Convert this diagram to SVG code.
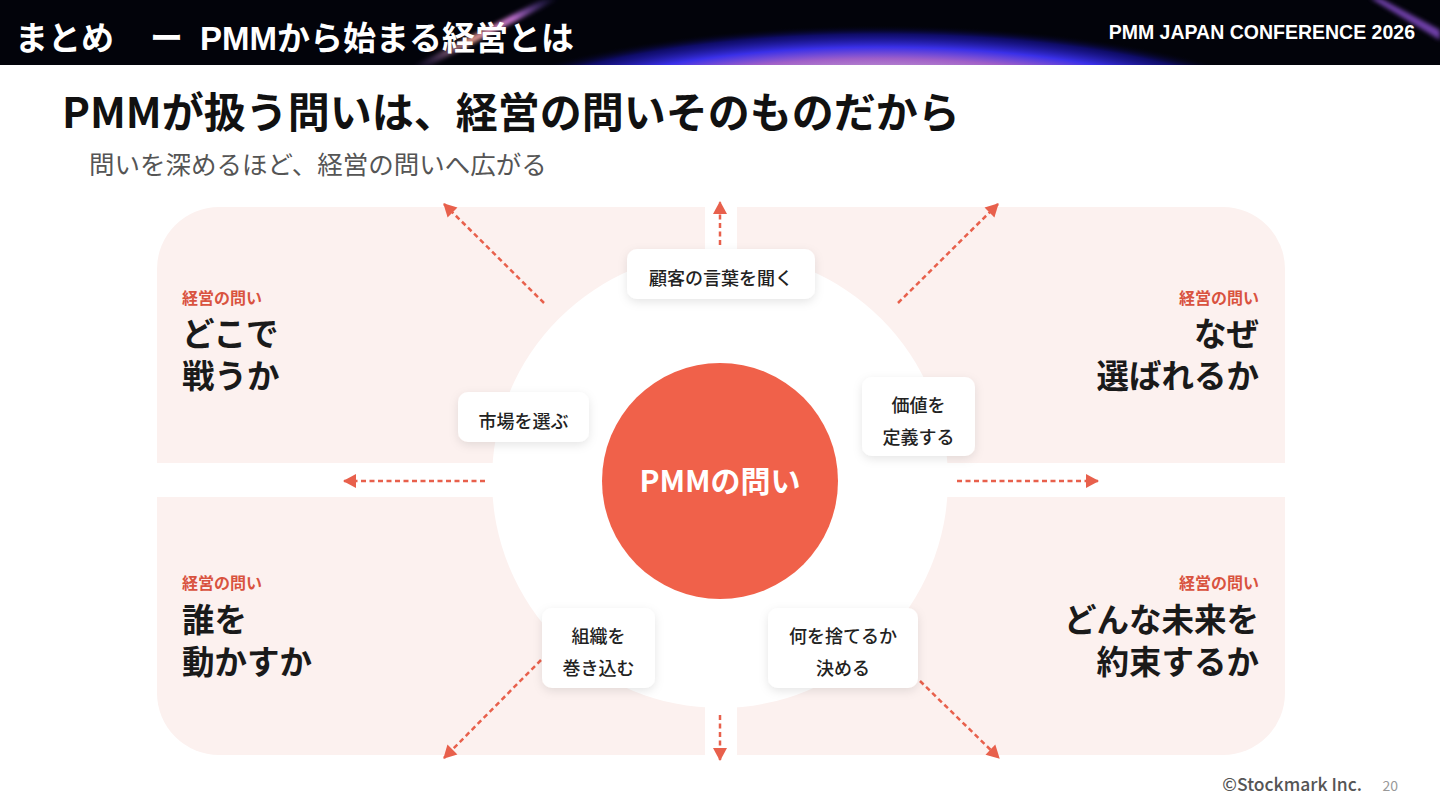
<svg xmlns="http://www.w3.org/2000/svg" width="1440" height="810" viewBox="0 0 1440 810">
<defs>
<style>
.jp{font-family:"Noto Sans CJK JP","Noto Sans",sans-serif}
.hdr{font-family:"Liberation Sans","Noto Sans CJK JP",sans-serif;font-weight:700;fill:#fff}
.tag{font-family:"Noto Sans CJK JP",sans-serif;font-weight:700;font-size:16px;fill:#D9533F}
.big{font-family:"Noto Sans CJK JP",sans-serif;font-weight:700;font-size:32.5px;fill:#1a1a1a}
.box{fill:#fff;filter:url(#sh)}
.bt{font-family:"Noto Sans CJK JP",sans-serif;font-weight:500;font-size:18px;fill:#222;text-anchor:middle}
.arr{stroke:#E8604C;stroke-width:2.5;stroke-dasharray:5 3.5;fill:none;marker-end:url(#ah)}
</style>
<marker id="ah" markerUnits="userSpaceOnUse" markerWidth="16" markerHeight="16" viewBox="0 0 16 16" refX="14" refY="8" orient="auto">
<path d="M2,1 L15,8 L2,15 Z" fill="#E8604C"/>
</marker>
<filter id="sh" x="-20%" y="-30%" width="140%" height="170%">
<feDropShadow dx="0" dy="3" stdDeviation="5" flood-color="#000" flood-opacity="0.10"/>
</filter>
<radialGradient id="glow" cx="0.5" cy="0.5" r="0.5">
<stop offset="0" stop-color="#f4e6ee"/>
<stop offset="0.6" stop-color="#cfb0d8"/>
<stop offset="0.74" stop-color="#a060c8"/>
<stop offset="0.83" stop-color="#3a30e8"/>
<stop offset="0.93" stop-color="#141090" stop-opacity="0.7"/>
<stop offset="1" stop-color="#02030a" stop-opacity="0"/>
</radialGradient>
<linearGradient id="streak" x1="0" y1="1" x2="1" y2="0">
<stop offset="0" stop-color="#6a4cc0" stop-opacity="0"/>
<stop offset="0.4" stop-color="#e39a8a"/>
<stop offset="0.7" stop-color="#c070d0"/>
<stop offset="1" stop-color="#5040c0" stop-opacity="0"/>
</linearGradient>
<filter id="blur"><feGaussianBlur stdDeviation="2"/></filter>
<clipPath id="hc"><rect x="0" y="0" width="1440" height="65"/></clipPath>
</defs>

<rect width="1440" height="810" fill="#fff"/>

<g id="header">
<rect x="0" y="0" width="1440" height="65" fill="#02030a"/>
<g clip-path="url(#hc)">
<ellipse cx="880" cy="155" rx="470" ry="130" fill="url(#glow)"/>
<path d="M410,68 L545,-2 L560,-2 L425,68 Z" fill="url(#streak)" filter="url(#blur)"/>
<path d="M1380,-2 L1440,30 L1440,40 L1370,-2 Z" fill="#8a50d0" opacity="0.8" filter="url(#blur)"/>
</g>
<text class="hdr" font-size="33" y="50"><tspan x="15">まとめ</tspan><tspan x="150">ー</tspan><tspan x="200">PMMから始まる経営とは</tspan></text>
<text class="hdr" font-size="19.5" x="1415" y="39" text-anchor="end">PMM JAPAN CONFERENCE 2026</text>
</g>

<g id="title">
<text class="jp" x="62" y="128" font-size="42" font-weight="700" fill="#111">PMMが扱う問いは、経営の問いそのものだから</text>
<text class="jp" x="89" y="174" font-size="25.5" font-weight="400" fill="#555">問いを深めるほど、経営の問いへ広がる</text>
</g>

<g id="quadrants">
<rect x="157" y="207" width="1128" height="548" rx="62" fill="#FCF1EF"/>
<rect x="705" y="200" width="32" height="560" fill="#fff"/>
<rect x="150" y="463" width="1140" height="34" fill="#fff"/>
<circle cx="720" cy="480" r="228" fill="#fff"/>
</g>

<g id="q-top-left">
<text class="tag" x="182" y="304">経営の問い</text>
<text class="big"><tspan x="182" y="346">どこで</tspan><tspan x="182" y="388">戦うか</tspan></text>
</g>
<g id="q-top-right">
<text class="tag" x="1259" y="304" text-anchor="end">経営の問い</text>
<text class="big" text-anchor="end"><tspan x="1259" y="346">なぜ</tspan><tspan x="1259" y="388">選ばれるか</tspan></text>
</g>
<g id="q-bottom-left">
<text class="tag" x="182" y="589">経営の問い</text>
<text class="big"><tspan x="182" y="632">誰を</tspan><tspan x="182" y="674">動かすか</tspan></text>
</g>
<g id="q-bottom-right">
<text class="tag" x="1259" y="589" text-anchor="end">経営の問い</text>
<text class="big" text-anchor="end"><tspan x="1259" y="632">どんな未来を</tspan><tspan x="1259" y="674">約束するか</tspan></text>
</g>

<g id="connectors">
<line class="arr" x1="720" y1="245" x2="720" y2="202"/>
<line class="arr" x1="544" y1="303" x2="444" y2="204"/>
<line class="arr" x1="898" y1="303" x2="998" y2="204"/>
<line class="arr" x1="485" y1="481" x2="344" y2="481"/>
<line class="arr" x1="957" y1="481" x2="1098" y2="481"/>
<line class="arr" x1="541" y1="660" x2="444" y2="758"/>
<line class="arr" x1="920" y1="681" x2="999" y2="758"/>
<line class="arr" x1="720" y1="715" x2="720" y2="760"/>
</g>

<g id="center">
<circle cx="720" cy="481" r="118" fill="#F0614A"/>
<text class="jp" x="720" y="492" font-size="30" font-weight="700" fill="#fff" text-anchor="middle">PMMの問い</text>
</g>

<g id="n-customer">
<rect class="box" x="627" y="249" width="188" height="50" rx="10"/>
<text class="bt" x="721" y="285">顧客の言葉を聞く</text>
</g>
<g id="n-market">
<rect class="box" x="458" y="392" width="131" height="50" rx="10"/>
<text class="bt" x="523.5" y="428">市場を選ぶ</text>
</g>
<g id="n-value">
<rect class="box" x="862" y="377" width="113" height="79" rx="10"/>
<text class="bt"><tspan x="918.5" y="412">価値を</tspan><tspan x="918.5" y="444">定義する</tspan></text>
</g>
<g id="n-org">
<rect class="box" x="542" y="608" width="113" height="80" rx="10"/>
<text class="bt"><tspan x="598.5" y="643">組織を</tspan><tspan x="598.5" y="675">巻き込む</tspan></text>
</g>
<g id="n-discard">
<rect class="box" x="768" y="608" width="150" height="80" rx="10"/>
<text class="bt"><tspan x="843" y="643">何を捨てるか</tspan><tspan x="843" y="675">決める</tspan></text>
</g>

<g id="footer">
<text class="jp" x="1362" y="791" font-size="17.5" font-weight="500" fill="#555" text-anchor="end">©Stockmark Inc.</text>
<text class="jp" x="1398" y="791" font-size="14" fill="#999" text-anchor="end">20</text>
</g>
</svg>
